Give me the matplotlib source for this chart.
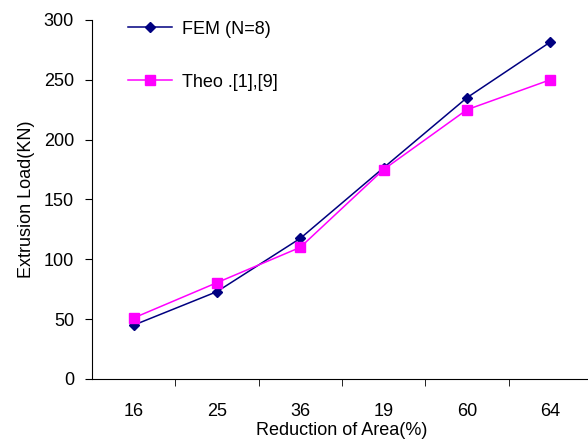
import matplotlib.pyplot as plt

plt.rcParams['font.family'] = ['Liberation Sans', 'DejaVu Sans']

reduccion = ['16', '25', '36', '19', '60', '64']
fem = [45, 73, 117.5, 176.5, 235, 281.5]
teorico = [51, 80.5, 110, 175, 225, 250]

fig = plt.figure(figsize=(5.88, 4.43), dpi=100)
ax = fig.add_axes([0.1565, 0.1445, 0.85, 0.8104])

x = range(len(reduccion))
ax.plot(x, fem, color='#000080', marker='D', markersize=5.5, linewidth=1.1, label='FEM (N=8)')
ax.plot(x, teorico, color='#FF00FF', marker='s', markersize=7, linewidth=1.1, label='Theo .[1],[9]')

ax.set_xlim(-0.5, len(reduccion) - 0.5)
ax.set_ylim(0, 300)
ax.set_yticks(range(0, 301, 50))
ax.set_xticks(list(x))
ax.set_xticklabels(reduccion)
# ticks entre categorias, como en excel
ax.set_xticks([i + 0.5 for i in range(len(reduccion) - 1)], minor=True)
ax.tick_params(axis='x', which='major', length=0, pad=17, labelsize=13)
ax.tick_params(axis='x', which='minor', length=5, direction='out')
ax.tick_params(axis='y', length=5, direction='out', labelsize=13, pad=8)

ax.spines['top'].set_visible(False)
ax.spines['right'].set_visible(False)

ax.set_xlabel('Reduction of Area(%)', fontsize=13, labelpad=2)
ax.set_ylabel('Extrusion Load(KN)', fontsize=13, labelpad=6)

ax.legend(loc='upper left', bbox_to_anchor=(0.072, 0.998), frameon=False,
          fontsize=13, handlelength=2.45, handletextpad=0.55, labelspacing=2.0,
          borderpad=0, borderaxespad=0)

plt.savefig('out.png', dpi=100)
